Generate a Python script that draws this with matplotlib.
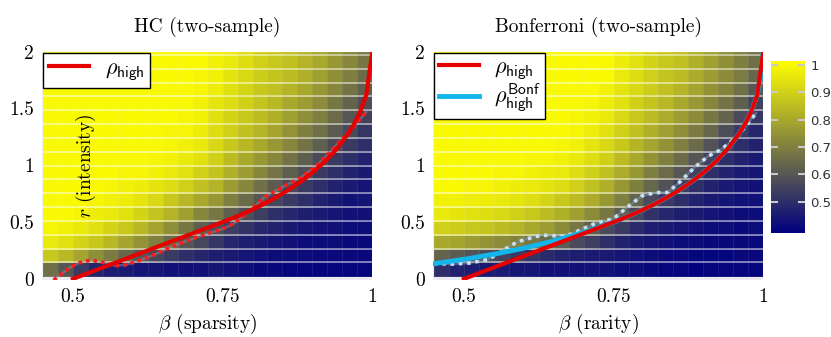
import numpy as np
import matplotlib
matplotlib.use("Agg")
import matplotlib.pyplot as plt
from matplotlib.colors import LinearSegmentedColormap

plt.rcParams['font.family'] = 'cmr10'
plt.rcParams['mathtext.fontset'] = 'cm'
plt.rcParams['axes.formatter.use_mathtext'] = True

# grid of the simulation (cell edges)
beta_edges = np.linspace(0.45, 1.0, 23)
r_edges = np.linspace(0.024, 1.971, 17)

# empirical power, rows from r small (bottom) to r large (top)
hc_power = [
    [0.66, 0.60, 0.53, 0.48, 0.46, 0.45, 0.44, 0.44, 0.43, 0.43, 0.43, 0.44, 0.43, 0.42, 0.41, 0.41, 0.40, 0.40, 0.40, 0.40, 0.40, 0.40],
    [0.88, 0.84, 0.79, 0.74, 0.69, 0.64, 0.60, 0.56, 0.53, 0.50, 0.48, 0.46, 0.45, 0.44, 0.43, 0.42, 0.42, 0.42, 0.41, 0.41, 0.41, 0.41],
    [0.96, 0.94, 0.91, 0.88, 0.84, 0.79, 0.75, 0.70, 0.65, 0.60, 0.56, 0.52, 0.48, 0.46, 0.45, 0.44, 0.43, 0.42, 0.42, 0.42, 0.41, 0.41],
    [0.99, 0.98, 0.96, 0.94, 0.91, 0.88, 0.84, 0.79, 0.74, 0.68, 0.62, 0.58, 0.54, 0.51, 0.48, 0.47, 0.45, 0.44, 0.43, 0.43, 0.42, 0.42],
    [1.00, 1.00, 0.99, 0.97, 0.96, 0.94, 0.91, 0.87, 0.83, 0.78, 0.72, 0.68, 0.62, 0.58, 0.54, 0.50, 0.48, 0.46, 0.45, 0.44, 0.43, 0.43],
    [1.00, 1.00, 1.00, 0.99, 0.98, 0.97, 0.95, 0.92, 0.88, 0.84, 0.80, 0.76, 0.70, 0.65, 0.60, 0.56, 0.53, 0.50, 0.47, 0.45, 0.43, 0.44],
    [1.00, 1.00, 1.00, 1.00, 0.99, 0.98, 0.97, 0.95, 0.93, 0.90, 0.86, 0.83, 0.77, 0.72, 0.66, 0.61, 0.57, 0.53, 0.50, 0.47, 0.45, 0.44],
    [1.00, 1.00, 1.00, 1.00, 1.00, 0.99, 0.99, 0.98, 0.96, 0.94, 0.90, 0.87, 0.82, 0.77, 0.72, 0.67, 0.62, 0.58, 0.53, 0.50, 0.47, 0.45],
    [1.00, 1.00, 1.00, 1.00, 1.00, 1.00, 1.00, 0.99, 0.98, 0.96, 0.94, 0.90, 0.85, 0.80, 0.76, 0.72, 0.67, 0.62, 0.57, 0.53, 0.50, 0.47],
    [1.00, 1.00, 1.00, 1.00, 1.00, 1.00, 1.00, 1.00, 0.99, 0.98, 0.96, 0.92, 0.88, 0.84, 0.80, 0.76, 0.72, 0.67, 0.62, 0.57, 0.53, 0.50],
    [1.00, 1.00, 1.00, 1.00, 1.00, 1.00, 1.00, 1.00, 0.99, 0.99, 0.97, 0.93, 0.90, 0.86, 0.83, 0.79, 0.75, 0.70, 0.66, 0.61, 0.57, 0.52],
    [1.00, 1.00, 1.00, 1.00, 1.00, 1.00, 1.00, 1.00, 1.00, 0.99, 0.98, 0.94, 0.91, 0.88, 0.85, 0.82, 0.78, 0.74, 0.70, 0.65, 0.60, 0.55],
    [1.00, 1.00, 1.00, 1.00, 1.00, 1.00, 1.00, 1.00, 1.00, 1.00, 0.98, 0.95, 0.93, 0.90, 0.87, 0.84, 0.80, 0.77, 0.73, 0.68, 0.63, 0.58],
    [1.00, 1.00, 1.00, 1.00, 1.00, 1.00, 1.00, 1.00, 1.00, 1.00, 0.99, 0.97, 0.94, 0.91, 0.88, 0.86, 0.83, 0.80, 0.76, 0.72, 0.67, 0.62],
    [1.00, 1.00, 1.00, 1.00, 1.00, 1.00, 1.00, 1.00, 1.00, 1.00, 0.99, 0.98, 0.95, 0.92, 0.89, 0.87, 0.85, 0.82, 0.78, 0.74, 0.70, 0.65],
    [1.00, 1.00, 1.00, 1.00, 1.00, 1.00, 1.00, 1.00, 1.00, 1.00, 1.00, 0.98, 0.96, 0.93, 0.90, 0.88, 0.86, 0.83, 0.80, 0.76, 0.72, 0.68],
]

bonf_power = [
    [0.50, 0.47, 0.46, 0.45, 0.45, 0.44, 0.44, 0.43, 0.43, 0.43, 0.43, 0.43, 0.42, 0.42, 0.41, 0.40, 0.40, 0.39, 0.40, 0.40, 0.40, 0.40],
    [0.63, 0.61, 0.59, 0.57, 0.55, 0.53, 0.51, 0.49, 0.47, 0.46, 0.45, 0.45, 0.44, 0.43, 0.42, 0.41, 0.41, 0.40, 0.40, 0.40, 0.41, 0.41],
    [0.80, 0.79, 0.77, 0.75, 0.73, 0.71, 0.68, 0.65, 0.61, 0.57, 0.54, 0.50, 0.47, 0.45, 0.44, 0.43, 0.42, 0.42, 0.41, 0.41, 0.41, 0.41],
    [0.90, 0.89, 0.88, 0.87, 0.85, 0.83, 0.80, 0.77, 0.73, 0.68, 0.62, 0.57, 0.53, 0.49, 0.46, 0.45, 0.44, 0.43, 0.42, 0.42, 0.41, 0.42],
    [0.96, 0.95, 0.94, 0.93, 0.92, 0.90, 0.88, 0.85, 0.82, 0.78, 0.73, 0.68, 0.62, 0.56, 0.51, 0.48, 0.46, 0.45, 0.44, 0.43, 0.42, 0.42],
    [0.98, 0.98, 0.97, 0.97, 0.96, 0.95, 0.93, 0.91, 0.88, 0.85, 0.81, 0.76, 0.70, 0.63, 0.57, 0.53, 0.50, 0.47, 0.45, 0.44, 0.43, 0.43],
    [1.00, 1.00, 0.99, 0.99, 0.98, 0.97, 0.96, 0.95, 0.93, 0.90, 0.86, 0.82, 0.76, 0.70, 0.64, 0.59, 0.54, 0.50, 0.47, 0.45, 0.44, 0.43],
    [1.00, 1.00, 1.00, 1.00, 0.99, 0.99, 0.98, 0.97, 0.96, 0.93, 0.90, 0.86, 0.81, 0.76, 0.70, 0.65, 0.60, 0.55, 0.50, 0.47, 0.45, 0.44],
    [1.00, 1.00, 1.00, 1.00, 1.00, 1.00, 0.99, 0.99, 0.98, 0.96, 0.93, 0.90, 0.85, 0.80, 0.75, 0.70, 0.65, 0.60, 0.55, 0.50, 0.47, 0.45],
    [1.00, 1.00, 1.00, 1.00, 1.00, 1.00, 1.00, 1.00, 0.99, 0.98, 0.95, 0.92, 0.88, 0.83, 0.79, 0.75, 0.70, 0.65, 0.59, 0.54, 0.50, 0.47],
    [1.00, 1.00, 1.00, 1.00, 1.00, 1.00, 1.00, 1.00, 1.00, 0.99, 0.97, 0.94, 0.90, 0.86, 0.82, 0.78, 0.74, 0.69, 0.64, 0.58, 0.53, 0.48],
    [1.00, 1.00, 1.00, 1.00, 1.00, 1.00, 1.00, 1.00, 1.00, 0.99, 0.98, 0.96, 0.92, 0.88, 0.85, 0.81, 0.77, 0.73, 0.68, 0.63, 0.57, 0.52],
    [1.00, 1.00, 1.00, 1.00, 1.00, 1.00, 1.00, 1.00, 1.00, 1.00, 0.99, 0.97, 0.94, 0.90, 0.87, 0.84, 0.80, 0.76, 0.72, 0.67, 0.62, 0.55],
    [1.00, 1.00, 1.00, 1.00, 1.00, 1.00, 1.00, 1.00, 1.00, 1.00, 1.00, 0.98, 0.95, 0.92, 0.89, 0.86, 0.83, 0.79, 0.75, 0.71, 0.66, 0.60],
    [1.00, 1.00, 1.00, 1.00, 1.00, 1.00, 1.00, 1.00, 1.00, 1.00, 1.00, 1.00, 0.96, 0.93, 0.90, 0.87, 0.85, 0.81, 0.77, 0.73, 0.69, 0.64],
    [1.00, 1.00, 1.00, 1.00, 1.00, 1.00, 1.00, 1.00, 1.00, 1.00, 1.00, 1.00, 0.97, 0.94, 0.91, 0.88, 0.86, 0.82, 0.78, 0.74, 0.70, 0.66],
]

# theoretical boundaries
beta_theory = [0.50, 0.55, 0.60, 0.65, 0.70, 0.75, 0.76, 0.78, 0.80, 0.82, 0.84, 0.86, 0.88, 0.90,
               0.92, 0.94, 0.96, 0.97, 0.98, 0.99, 1.00]
rho_high = [0.0, 0.1, 0.2, 0.3, 0.4, 0.5, 0.520, 0.564, 0.611, 0.663, 0.720, 0.783, 0.854, 0.935,
            1.029, 1.140, 1.280, 1.367, 1.474, 1.620, 2.0]
beta_bonf = [0.45, 0.50, 0.55, 0.60, 0.65, 0.70, 0.75, 0.76, 0.78, 0.80, 0.82, 0.84, 0.86, 0.88,
             0.90, 0.92, 0.94, 0.96, 0.97, 0.98, 0.99, 0.995, 1.00]
rho_bonf = [0.134, 0.172, 0.217, 0.270, 0.334, 0.409, 0.5, 0.520, 0.564, 0.611, 0.663, 0.720, 0.783,
            0.854, 0.935, 1.029, 1.140, 1.280, 1.367, 1.474, 1.620, 1.75, 2.0]

# empirical boundaries
hc_emp_beta = [0.468, 0.48, 0.495, 0.51, 0.53, 0.55, 0.57, 0.59, 0.61, 0.63, 0.66, 0.69, 0.72,
               0.75, 0.77, 0.80, 0.82, 0.85, 0.88, 0.91, 0.93, 0.96, 0.99]
hc_emp_r = [-0.01, 0.04, 0.10, 0.14, 0.165, 0.145, 0.115, 0.125, 0.16, 0.20, 0.27, 0.335, 0.39,
            0.44, 0.49, 0.62, 0.72, 0.81, 0.89, 1.01, 1.12, 1.29, 1.47]
bonf_emp_beta = [0.45, 0.48, 0.51, 0.54, 0.56, 0.58, 0.60, 0.63, 0.65, 0.67, 0.69, 0.72, 0.75,
                 0.775, 0.797, 0.82, 0.84, 0.858, 0.885, 0.908, 0.93, 0.958, 0.988]
bonf_emp_r = [0.135, 0.13, 0.14, 0.17, 0.23, 0.30, 0.345, 0.385, 0.38, 0.375, 0.42, 0.49, 0.53,
              0.64, 0.73, 0.76, 0.76, 0.84, 0.98, 1.08, 1.14, 1.26, 1.46]

RED = '#e60000'
CYAN = '#12b6ea'
cmap = LinearSegmentedColormap.from_list('navy_yellow', ['#000080', '#ffff00'])
VMIN, VMAX = 0.386, 1.016

fig = plt.figure(figsize=(8.31, 3.37), dpi=100)
ax1 = fig.add_axes([0.0509, 0.1691, 0.3971, 0.6774])
ax2 = fig.add_axes([0.5214, 0.1691, 0.3971, 0.6774])
cax = fig.add_axes([0.9278, 0.3095, 0.0409, 0.5104])

r_edges_full = np.append(r_edges, 2.0)
panels = [(ax1, hc_power, 'HC (two-sample)', r'$\beta$ (sparsity)'),
          (ax2, bonf_power, 'Bonferroni (two-sample)', r'$\beta$ (rarity)')]
for ax, power, title, xlabel in panels:
    Z = np.array(power)
    Z = np.vstack([Z, Z[-1]])
    mesh = ax.pcolormesh(beta_edges, r_edges_full, Z, cmap=cmap, vmin=VMIN, vmax=VMAX,
                         edgecolors=(1, 1, 1, 0.08), linewidth=0.4)
    for r in r_edges[1:]:
        ax.axhline(r, color='white', lw=1.1, alpha=0.6, zorder=2)
    ax.set_xlim(0.449, 1.0)
    ax.set_ylim(-0.01, 2.0)
    ax.set_facecolor('#ececf0')
    for s in ax.spines.values():
        s.set_visible(False)
    ax.set_xticks([0.5, 0.75, 1.0])
    ax.set_xticklabels(['0.5', '0.75', '1'])
    ax.set_yticks([0, 0.5, 1, 1.5, 2])
    ax.set_yticklabels(['0', '0.5', '1', '1.5', '2'])
    ax.tick_params(length=0, labelsize=14, pad=6)
    ax.set_title(title, fontsize=14, pad=14)
    ax.set_xlabel(xlabel, fontsize=14, labelpad=4)

# HC panel
ax1.plot(hc_emp_beta, hc_emp_r, color='#9090a0', lw=1.6, alpha=0.5, zorder=3)
ax1.plot(hc_emp_beta, hc_emp_r, color='#ff1a1a', lw=2.6, ls=(0, (1, 1.1)), zorder=4)
h1, = ax1.plot(beta_theory, rho_high, color=RED, lw=3, zorder=5, label=r'$\rho_{\mathsf{high}}$')
ax1.text(0.522, 1.0, r'$r$ (intensity)', rotation=90, ha='center', va='center', fontsize=14, zorder=6)
leg = ax1.legend(handles=[h1], loc='upper left', fontsize=16, fancybox=False, edgecolor='black',
                 framealpha=1, borderaxespad=0.05, handlelength=1.8, borderpad=0.25,
                 handletextpad=0.7)
leg.get_frame().set_linewidth(1.0)

# Bonferroni panel
ax2.plot(bonf_emp_beta, bonf_emp_r, color='#8090a0', lw=1.6, alpha=0.6, zorder=3)
ax2.plot(bonf_emp_beta, bonf_emp_r, color='#c4e2f2', lw=2.6, ls=(0, (1, 1.3)), zorder=4)
h2, = ax2.plot(beta_bonf, rho_bonf, color=CYAN, lw=3.5, zorder=5, label=r'$\rho_{\mathsf{high}}^{\mathsf{Bonf}}$')
h3, = ax2.plot(beta_theory, rho_high, color=RED, lw=3, zorder=6, label=r'$\rho_{\mathsf{high}}$')
leg = ax2.legend(handles=[h3, h2], loc='upper left', fontsize=16, fancybox=False, edgecolor='black',
                 framealpha=1, borderaxespad=0.05, handlelength=1.8, borderpad=0.2,
                 handletextpad=0.7, labelspacing=0.0)
leg.get_frame().set_linewidth(1.0)

cb = fig.colorbar(mesh, cax=cax, ticks=[0.5, 0.6, 0.7, 0.8, 0.9, 1.0])
cb.outline.set_visible(False)
cax.tick_params(direction='in', left=True, right=True, length=5, width=1.5, color='#c8c8c8', pad=4)
cax.set_yticklabels(['0.5', '0.6', '0.7', '0.8', '0.9', '1'], fontfamily='DejaVu Sans',
                    fontsize=9.5, color='#333333')

fig.savefig('out.png', dpi=100)
